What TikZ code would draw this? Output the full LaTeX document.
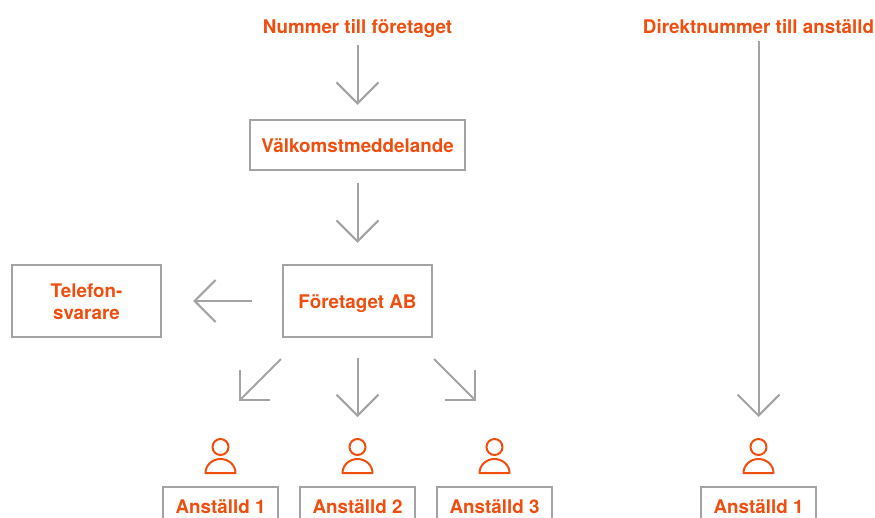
\documentclass[tikz,border=0pt]{standalone}
\usepackage{fontspec}
\setmainfont{TeX Gyre Heros}
\usetikzlibrary{arrows.meta}
\definecolor{rubrik}{HTML}{F04E0F}
\definecolor{ram}{HTML}{A3A3A3}
\tikzset{
    pil/.style={draw=ram,line width=2pt,-{Straight Barb[length=21pt,width=42pt,line width=2pt]}},
    ruta/.style={draw=ram,line width=2.4pt,font=\fontsize{18.8}{22}\selectfont\bfseries,text=rubrik,align=center,inner sep=0pt},
    anst/.style={draw=ram,line width=2.4pt,font=\fontsize{18.8}{22}\selectfont\bfseries,text=rubrik,minimum width=115pt,inner xsep=0pt,inner ysep=12pt,text height=14pt,text depth=0pt,anchor=north},
    rubr/.style={font=\fontsize{18.8}{22}\selectfont\bfseries,text=rubrik,inner sep=0pt,anchor=base},
    huvud/.style={circle,draw=rubrik,line width=2pt,minimum size=16pt,inner sep=0pt},
}
\begin{document}
\begin{tikzpicture}[x=1pt,y=1pt]
    \useasboundingbox (0,0) rectangle (875,-517);

    \node[rubr] (nummer) at (357.5,-33) {Nummer till företaget};
    \node[rubr] (direkt) at (758.5,-33) {Direktnummer till anställd};

    \node[ruta,minimum width=215pt,minimum height=50pt,text height=14pt,text depth=0pt] (valkomst) at (357.5,-145) {Välkomstmeddelande};
    \node[ruta,minimum width=149pt,minimum height=72pt,text height=14pt,text depth=0pt] (foretaget) at (357.5,-301) {Företaget AB};
    \node[ruta,minimum width=149pt,minimum height=72pt] (telefon) at (86.5,-301) {\rule{0pt}{16pt}Telefon-\\svarare};

    % anställda med ikon
    \foreach \n/\x/\t in {a/220.5/Anställd 1,b/357.5/Anställd 2,c/494.5/Anställd 3,d/758.5/Anställd 1}{
        \node[huvud] (huvud\n) at (\x,-447) {};
        \draw[rubrik,line width=2pt,line join=round] (\x-15,-473) arc[start angle=180,end angle=0,x radius=15,y radius=14] -- cycle;
        \node[anst] (anst\n) at (\x,-486) {\t};
    }

    \coordinate (vfran) at (281,-359);
    \coordinate (vtill) at (239,-401);
    \coordinate (hfran) at (434,-359);
    \coordinate (htill) at (476,-401);

    \draw[pil,shorten <=8pt,shorten >=14pt] (nummer) -- (valkomst);
    \draw[pil,shorten <=12pt,shorten >=21pt] (valkomst) -- (foretaget);
    \draw[pil,shorten <=30pt,shorten >=31pt] (foretaget) -- (telefon);
    \draw[pil,shorten <=20pt,shorten >=21pt] (foretaget) -- (huvudb);
    \draw[pil] (vfran) -- (vtill);
    \draw[pil] (hfran) -- (htill);
    \draw[pil,shorten <=8pt,shorten >=21pt] (direkt) -- (huvudd);
\end{tikzpicture}
\end{document}
